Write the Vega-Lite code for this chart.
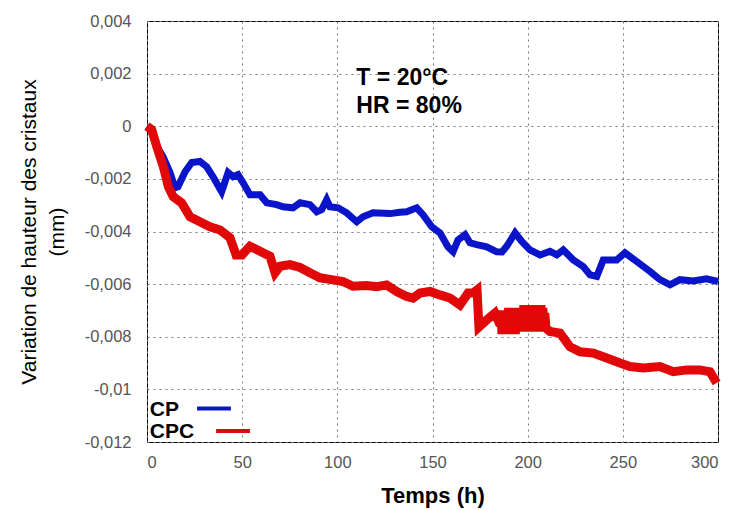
{
  "$schema": "https://vega.github.io/schema/vega-lite/v6.json",
  "autosize": {"type": "none"},
  "width": 571,
  "height": 421,
  "padding": {"left": 147, "top": 21, "right": 15, "bottom": 68},
  "background": "white",
  "config": {
    "view": {"stroke": "black", "strokeWidth": 1},
    "font": "Liberation Sans",
    "axis": {
      "grid": true,
      "gridColor": "#777777",
      "gridDash": [2, 4],
      "gridWidth": 1,
      "ticks": false,
      "domain": false,
      "labelFont": "Liberation Sans",
      "labelFontSize": 16.5,
      "labelColor": "#555555",
      "titleFont": "Liberation Sans",
      "titleColor": "black"
    }
  },
  "datasets": {
    "series": [
      {"t": 0, "v": 0, "s": "CP"},
      {"t": 2.5, "v": -0.00013, "s": "CP"},
      {"t": 5.1, "v": -0.00076, "s": "CP"},
      {"t": 8.4, "v": -0.00115, "s": "CP"},
      {"t": 12.1, "v": -0.00176, "s": "CP"},
      {"t": 14.7, "v": -0.00234, "s": "CP"},
      {"t": 16.3, "v": -0.0023, "s": "CP"},
      {"t": 20, "v": -0.00173, "s": "CP"},
      {"t": 23.5, "v": -0.00138, "s": "CP"},
      {"t": 27.8, "v": -0.00134, "s": "CP"},
      {"t": 31.4, "v": -0.00154, "s": "CP"},
      {"t": 34.7, "v": -0.00192, "s": "CP"},
      {"t": 39.2, "v": -0.00249, "s": "CP"},
      {"t": 42.6, "v": -0.00176, "s": "CP"},
      {"t": 45.2, "v": -0.00192, "s": "CP"},
      {"t": 47.8, "v": -0.00184, "s": "CP"},
      {"t": 50.4, "v": -0.00214, "s": "CP"},
      {"t": 54.1, "v": -0.0026, "s": "CP"},
      {"t": 59.4, "v": -0.0026, "s": "CP"},
      {"t": 62.9, "v": -0.00291, "s": "CP"},
      {"t": 68.1, "v": -0.00298, "s": "CP"},
      {"t": 71.5, "v": -0.00306, "s": "CP"},
      {"t": 76.7, "v": -0.0031, "s": "CP"},
      {"t": 80.4, "v": -0.00291, "s": "CP"},
      {"t": 85.6, "v": -0.00298, "s": "CP"},
      {"t": 89.2, "v": -0.00325, "s": "CP"},
      {"t": 91.8, "v": -0.00317, "s": "CP"},
      {"t": 94.4, "v": -0.00279, "s": "CP"},
      {"t": 96.1, "v": -0.00306, "s": "CP"},
      {"t": 100.4, "v": -0.0031, "s": "CP"},
      {"t": 104.9, "v": -0.00329, "s": "CP"},
      {"t": 110.2, "v": -0.00363, "s": "CP"},
      {"t": 113.5, "v": -0.00344, "s": "CP"},
      {"t": 118.7, "v": -0.00329, "s": "CP"},
      {"t": 127.7, "v": -0.00332, "s": "CP"},
      {"t": 132.9, "v": -0.00327, "s": "CP"},
      {"t": 136.4, "v": -0.00325, "s": "CP"},
      {"t": 141.7, "v": -0.0031, "s": "CP"},
      {"t": 145, "v": -0.00336, "s": "CP"},
      {"t": 149.6, "v": -0.00382, "s": "CP"},
      {"t": 153.9, "v": -0.00405, "s": "CP"},
      {"t": 158.1, "v": -0.00458, "s": "CP"},
      {"t": 160.8, "v": -0.00477, "s": "CP"},
      {"t": 163.4, "v": -0.00432, "s": "CP"},
      {"t": 167.1, "v": -0.00412, "s": "CP"},
      {"t": 169.7, "v": -0.00443, "s": "CP"},
      {"t": 173.2, "v": -0.0045, "s": "CP"},
      {"t": 178.5, "v": -0.00458, "s": "CP"},
      {"t": 183.7, "v": -0.00477, "s": "CP"},
      {"t": 186.5, "v": -0.00478, "s": "CP"},
      {"t": 189, "v": -0.00456, "s": "CP"},
      {"t": 193.4, "v": -0.00405, "s": "CP"},
      {"t": 196.9, "v": -0.00438, "s": "CP"},
      {"t": 201.2, "v": -0.0047, "s": "CP"},
      {"t": 206.5, "v": -0.00489, "s": "CP"},
      {"t": 211.7, "v": -0.00475, "s": "CP"},
      {"t": 215.3, "v": -0.00489, "s": "CP"},
      {"t": 218.7, "v": -0.0047, "s": "CP"},
      {"t": 224, "v": -0.00508, "s": "CP"},
      {"t": 229.2, "v": -0.00533, "s": "CP"},
      {"t": 232.8, "v": -0.00565, "s": "CP"},
      {"t": 236.3, "v": -0.00571, "s": "CP"},
      {"t": 239.7, "v": -0.00508, "s": "CP"},
      {"t": 246.8, "v": -0.00508, "s": "CP"},
      {"t": 251.1, "v": -0.00481, "s": "CP"},
      {"t": 257.3, "v": -0.00514, "s": "CP"},
      {"t": 264.3, "v": -0.00552, "s": "CP"},
      {"t": 269.5, "v": -0.00583, "s": "CP"},
      {"t": 274.8, "v": -0.00603, "s": "CP"},
      {"t": 280, "v": -0.00583, "s": "CP"},
      {"t": 287, "v": -0.00588, "s": "CP"},
      {"t": 294, "v": -0.0058, "s": "CP"},
      {"t": 300, "v": -0.0059, "s": "CP"},

      {"t": 0, "v": 0, "s": "CPC"},
      {"t": 2.5, "v": -0.00013, "s": "CPC"},
      {"t": 5.1, "v": -0.00077, "s": "CPC"},
      {"t": 8.6, "v": -0.00154, "s": "CPC"},
      {"t": 11.2, "v": -0.0023, "s": "CPC"},
      {"t": 13.8, "v": -0.00268, "s": "CPC"},
      {"t": 18.2, "v": -0.00291, "s": "CPC"},
      {"t": 22.6, "v": -0.00344, "s": "CPC"},
      {"t": 27.8, "v": -0.00363, "s": "CPC"},
      {"t": 33.1, "v": -0.00382, "s": "CPC"},
      {"t": 38.4, "v": -0.00394, "s": "CPC"},
      {"t": 43.6, "v": -0.00424, "s": "CPC"},
      {"t": 46.8, "v": -0.00489, "s": "CPC"},
      {"t": 49.9, "v": -0.00489, "s": "CPC"},
      {"t": 54.1, "v": -0.00456, "s": "CPC"},
      {"t": 59.4, "v": -0.00475, "s": "CPC"},
      {"t": 64.6, "v": -0.00494, "s": "CPC"},
      {"t": 67.3, "v": -0.00557, "s": "CPC"},
      {"t": 69.9, "v": -0.00532, "s": "CPC"},
      {"t": 75.1, "v": -0.00526, "s": "CPC"},
      {"t": 80.4, "v": -0.00537, "s": "CPC"},
      {"t": 85.6, "v": -0.00557, "s": "CPC"},
      {"t": 90.9, "v": -0.00576, "s": "CPC"},
      {"t": 97.7, "v": -0.00584, "s": "CPC"},
      {"t": 103, "v": -0.0059, "s": "CPC"},
      {"t": 108.2, "v": -0.00608, "s": "CPC"},
      {"t": 115.4, "v": -0.00605, "s": "CPC"},
      {"t": 120.7, "v": -0.0061, "s": "CPC"},
      {"t": 125.9, "v": -0.00603, "s": "CPC"},
      {"t": 131.2, "v": -0.00628, "s": "CPC"},
      {"t": 136.4, "v": -0.00647, "s": "CPC"},
      {"t": 139.8, "v": -0.00653, "s": "CPC"},
      {"t": 143.4, "v": -0.00634, "s": "CPC"},
      {"t": 148.7, "v": -0.00628, "s": "CPC"},
      {"t": 153.9, "v": -0.00641, "s": "CPC"},
      {"t": 159.2, "v": -0.00653, "s": "CPC"},
      {"t": 164.4, "v": -0.00679, "s": "CPC"},
      {"t": 168.7, "v": -0.00634, "s": "CPC"},
      {"t": 171.3, "v": -0.00634, "s": "CPC"},
      {"t": 173.4, "v": -0.00622, "s": "CPC"},
      {"t": 174.4, "v": -0.00763, "s": "CPC"},
      {"t": 178.5, "v": -0.00736, "s": "CPC"},
      {"t": 182.8, "v": -0.0071, "s": "CPC"},
      {"t": 185.5, "v": -0.00755, "s": "CPC"},
      {"t": 186, "v": -0.0071, "s": "CPC"},
      {"t": 186.5, "v": -0.0079, "s": "CPC"},
      {"t": 187, "v": -0.0070, "s": "CPC"},
      {"t": 187.5, "v": -0.0079, "s": "CPC"},
      {"t": 188, "v": -0.0070, "s": "CPC"},
      {"t": 188.5, "v": -0.0079, "s": "CPC"},
      {"t": 189, "v": -0.0070, "s": "CPC"},
      {"t": 189.5, "v": -0.0079, "s": "CPC"},
      {"t": 190, "v": -0.0069, "s": "CPC"},
      {"t": 190.5, "v": -0.0079, "s": "CPC"},
      {"t": 191, "v": -0.0069, "s": "CPC"},
      {"t": 191.5, "v": -0.0079, "s": "CPC"},
      {"t": 192, "v": -0.0069, "s": "CPC"},
      {"t": 192.5, "v": -0.0079, "s": "CPC"},
      {"t": 193, "v": -0.0069, "s": "CPC"},
      {"t": 193.5, "v": -0.0079, "s": "CPC"},
      {"t": 194, "v": -0.0069, "s": "CPC"},
      {"t": 194.5, "v": -0.0078, "s": "CPC"},
      {"t": 195, "v": -0.0069, "s": "CPC"},
      {"t": 195.5, "v": -0.0078, "s": "CPC"},
      {"t": 196, "v": -0.0069, "s": "CPC"},
      {"t": 196.5, "v": -0.0078, "s": "CPC"},
      {"t": 197, "v": -0.0069, "s": "CPC"},
      {"t": 197.5, "v": -0.0078, "s": "CPC"},
      {"t": 198, "v": -0.0068, "s": "CPC"},
      {"t": 198.5, "v": -0.0078, "s": "CPC"},
      {"t": 199, "v": -0.0068, "s": "CPC"},
      {"t": 199.5, "v": -0.0078, "s": "CPC"},
      {"t": 200, "v": -0.0068, "s": "CPC"},
      {"t": 200.5, "v": -0.0078, "s": "CPC"},
      {"t": 201, "v": -0.0068, "s": "CPC"},
      {"t": 201.5, "v": -0.0078, "s": "CPC"},
      {"t": 202, "v": -0.0068, "s": "CPC"},
      {"t": 202.5, "v": -0.0078, "s": "CPC"},
      {"t": 203, "v": -0.0068, "s": "CPC"},
      {"t": 203.5, "v": -0.0078, "s": "CPC"},
      {"t": 204, "v": -0.0068, "s": "CPC"},
      {"t": 204.5, "v": -0.0078, "s": "CPC"},
      {"t": 205, "v": -0.0068, "s": "CPC"},
      {"t": 205.5, "v": -0.0078, "s": "CPC"},
      {"t": 206, "v": -0.0068, "s": "CPC"},
      {"t": 206.5, "v": -0.0078, "s": "CPC"},
      {"t": 207, "v": -0.0068, "s": "CPC"},
      {"t": 207.5, "v": -0.0078, "s": "CPC"},
      {"t": 208, "v": -0.0069, "s": "CPC"},
      {"t": 208.5, "v": -0.0078, "s": "CPC"},
      {"t": 209, "v": -0.0071, "s": "CPC"},
      {"t": 209.6, "v": -0.00767, "s": "CPC"},
      {"t": 211.7, "v": -0.0078, "s": "CPC"},
      {"t": 217, "v": -0.00786, "s": "CPC"},
      {"t": 222.2, "v": -0.00838, "s": "CPC"},
      {"t": 227.5, "v": -0.00857, "s": "CPC"},
      {"t": 234.5, "v": -0.00862, "s": "CPC"},
      {"t": 241.5, "v": -0.00881, "s": "CPC"},
      {"t": 248.5, "v": -0.009, "s": "CPC"},
      {"t": 253.8, "v": -0.00913, "s": "CPC"},
      {"t": 260.8, "v": -0.00919, "s": "CPC"},
      {"t": 269.5, "v": -0.00913, "s": "CPC"},
      {"t": 276.5, "v": -0.00933, "s": "CPC"},
      {"t": 283.5, "v": -0.00926, "s": "CPC"},
      {"t": 290.5, "v": -0.00926, "s": "CPC"},
      {"t": 295.8, "v": -0.00933, "s": "CPC"},
      {"t": 299.3, "v": -0.00976, "s": "CPC"}
    ],
    "notes": [
      {"t": 110, "v": 0.00182, "label": "T = 20°C"},
      {"t": 110, "v": 0.00077, "label": "HR = 80%"}
    ],
    "legendText": [
      {"t": 1.5, "v": -0.01079, "label": "CP"},
      {"t": 1.5, "v": -0.01162, "label": "CPC"}
    ],
    "legendLines": [
      {"t": 26.3, "t2": 44.1, "v": -0.01073, "s": "CP"},
      {"t": 36.3, "t2": 54.1, "v": -0.01158, "s": "CPC"}
    ]
  },
  "encoding": {
    "x": {
      "field": "t",
      "type": "quantitative",
      "scale": {"domain": [0, 300], "nice": false, "zero": false},
      "axis": {
        "values": [0, 50, 100, 150, 200, 250, 300],
        "labelPadding": 12,
        "title": "Temps (h)",
        "titleFontSize": 22,
        "titleFontWeight": "bold",
        "titlePadding": 15
      }
    },
    "y": {
      "field": "v",
      "type": "quantitative",
      "scale": {"domain": [-0.012, 0.004], "nice": false, "zero": false},
      "axis": {
        "values": [-0.012, -0.01, -0.008, -0.006, -0.004, -0.002, 0, 0.002, 0.004],
        "labelExpr": "replace(replace(format(datum.value, '.3~f'), '.', ','), '\u2212', '-')",
        "labelPadding": 16,
        "title": ["Variation de hauteur des cristaux", "(mm)"],
        "titleFontSize": 21,
        "titleFontWeight": "normal",
        "titleLineHeight": 28,
        "titlePadding": 17
      }
    }
  },
  "layer": [
    {
      "data": {"name": "series"},
      "mark": {"type": "line", "strokeJoin": "miter", "strokeCap": "butt"},
      "encoding": {
        "color": {"field": "s", "type": "nominal", "scale": {"domain": ["CP", "CPC"], "range": ["#0a14c8", "#e00808"]}, "legend": null},
        "strokeWidth": {"field": "s", "type": "nominal", "scale": {"domain": ["CP", "CPC"], "range": [7, 9]}, "legend": null}
      }
    },
    {
      "data": {"name": "notes"},
      "mark": {"type": "text", "align": "left", "baseline": "middle", "fontSize": 23, "fontWeight": "bold", "font": "Liberation Sans", "color": "black"},
      "encoding": {"text": {"field": "label"}}
    },
    {
      "data": {"name": "legendText"},
      "mark": {"type": "text", "align": "left", "baseline": "middle", "fontSize": 21, "fontWeight": "bold", "font": "Liberation Sans", "color": "black"},
      "encoding": {"text": {"field": "label"}}
    },
    {
      "data": {"name": "legendLines"},
      "mark": {"type": "rule", "strokeWidth": 4},
      "encoding": {
        "x2": {"field": "t2"},
        "color": {"field": "s", "type": "nominal", "scale": {"domain": ["CP", "CPC"], "range": ["#0a14c8", "#e00808"]}, "legend": null}
      }
    }
  ]
}
